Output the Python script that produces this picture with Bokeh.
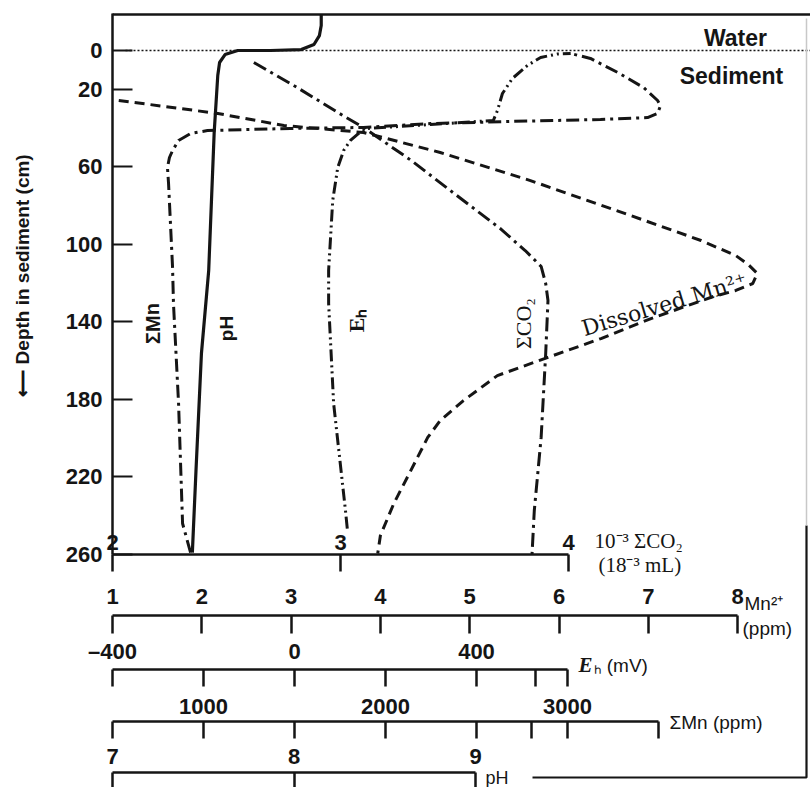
from bokeh.plotting import figure
from bokeh.models import Range1d, LinearAxis, FixedTicker, Label
from bokeh.embed import file_html
from bokeh.resources import INLINE

# ---------------- data (depth in cm, values in each variable's own units) ----------------
ph_value = [8.15, 8.15, 8.14, 8.11, 8.04, 7.87, 7.69, 7.62, 7.59, 7.58, 7.56, 7.53, 7.49, 7.46, 7.44]
ph_depth = [-18.6, -12.9, -7.7, -3.1, -0.5, 0.0, 0.0, 2.1, 6.2, 12.9, 42.8, 113.5, 156.3, 216.7, 259.0]

smn_value = [929, 885, 863, 835, 830, 808, 802, 813, 830, 863, 929, 1022, 1478, 1879, 2247,
             2687, 3181, 3440, 3495, 3511, 3495, 3418, 3275, 3126, 3016]
smn_depth = [259.0, 244.0, 182.1, 130.5, 111.9, 68.6, 60.4, 55.2, 51.6, 46.4, 42.8, 41.3, 40.2,
             39.7, 37.7, 36.6, 35.6, 34.6, 32.5, 28.4, 25.8, 19.1, 11.3, 4.1, 1.5]

eh_value = [116, 112, 86, 75, 75, 84, 95, 108, 123, 141, 160, 299, 437, 446, 457, 479, 512, 541, 578, 607]
eh_depth = [246.6, 237.3, 182.1, 130.5, 113.5, 77.4, 60.4, 51.6, 46.4, 42.8, 40.2, 38.2, 36.1,
            31.0, 22.2, 14.4, 7.7, 3.6, 1.8, 1.5]

co2_value = [2.62, 2.81, 3.01, 3.10, 3.31, 3.51, 3.70, 3.81, 3.88, 3.90, 3.91, 3.90, 3.88, 3.85, 3.84]
co2_depth = [6.2, 19.1, 33.5, 39.7, 56.7, 74.8, 91.8, 103.2, 111.4, 120.2, 129.0, 156.3, 199.6, 237.3, 260.0]

mn_value = [1.07, 1.59, 2.18, 2.92, 3.81, 4.67, 5.68, 6.80, 7.59, 7.98, 8.12, 8.22, 8.17, 7.98,
            7.73, 7.03, 6.47, 5.87, 5.31, 4.93, 4.67, 4.53, 4.34, 4.15, 4.00, 3.97]
mn_depth = [25.8, 28.9, 32.5, 38.7, 42.3, 52.6, 67.1, 85.1, 98.0, 105.8, 110.4, 115.0, 120.2, 123.8,
            126.9, 138.3, 148.6, 158.4, 167.7, 180.6, 190.9, 199.6, 216.7, 233.7, 250.2, 259.5]

depth_ticks = [0, 20, 60, 100, 140, 180, 220, 260]
co2_ticks = [2, 3, 4]
co2_tick_labels = ["2", "3", "4"]
mn_ticks = [1, 2, 3, 4, 5, 6, 7, 8]
mn_tick_labels = ["1", "2", "3", "4", "5", "6", "7", "8"]
eh_ticks = [-400, -200, 0, 200, 400, 530, 600]
eh_tick_labels = ["–400", "", "0", "", "400", "", ""]
smn_ticks = [500, 1000, 1500, 2000, 2500, 2800, 3000, 3500]
smn_tick_labels = ["", "1000", "", "2000", "", "", "3000", ""]
phax_ticks = [7, 8, 9]
phax_tick_labels = ["7", "8", "9"]

# ---------------- layout constants (pixels) ----------------
W, H = 810, 787
AXIS_PX = 112          # pixel column where every scale starts
Y0_PX = 50.0           # pixel row of depth 0
PX_PER_CM = 1.9385
# pixels per unit of each scale, and the value found at AXIS_PX
SCALES = {"default": (1, 89.3), "co2": (2, 228.0), "eh": (-400, 0.455),
          "smn": (500, 0.182), "ph": (7, 181.5)}

def depth_at(py):
    return (py - Y0_PX) / PX_PER_CM

def val_at(name, px):
    v0, b = SCALES[name]
    return v0 + (px - AXIS_PX) / b

def full_range(name):
    return Range1d(val_at(name, 0), val_at(name, W))

SANS = "Liberation Sans"
SERIF = "Liberation Serif"
INK = "#151515"

p = figure(width=W, height=H,
           x_range=full_range("default"),
           y_range=Range1d(depth_at(H), depth_at(0)),
           x_axis_location=None, y_axis_location=None,
           min_border_left=0, min_border_top=0, min_border_right=0, min_border_bottom=0,
           toolbar_location=None, output_backend="svg",
           outline_line_color=None, background_fill_color="white",
           border_fill_color="white")
p.grid.visible = False
p.extra_x_ranges = {k: full_range(k) for k in ("co2", "eh", "smn", "ph")}

TOP_DEPTH = depth_at(14)

# ---------------- depth axis ----------------
ya = LinearAxis(fixed_location=val_at("default", AXIS_PX), ticker=FixedTicker(ticks=depth_ticks),
                bounds=(depth_at(13), 260))
ya.axis_line_width = 2.5
ya.axis_line_color = INK
ya.major_tick_in = 20
ya.major_tick_out = 0
ya.major_tick_line_width = 2
ya.major_tick_line_color = INK
ya.minor_tick_line_color = None
ya.major_label_standoff = 10
ya.major_label_text_font = SANS
ya.major_label_text_font_style = "bold"
ya.major_label_text_font_size = "22px"
ya.major_label_text_color = INK
p.add_layout(ya, "left")

# ---------------- stacked scales under the profile ----------------
def bottom_axis(name, py, ticks, labels, lo, hi, tick_len, standoff):
    ax = LinearAxis(x_range_name=name, fixed_location=depth_at(py), ticker=FixedTicker(ticks=ticks),
                    bounds=(lo, hi))
    ax.major_label_overrides = {t: s for t, s in zip(ticks, labels)}
    ax.axis_line_width = 2.5
    ax.axis_line_color = INK
    ax.major_tick_in = tick_len
    ax.major_tick_out = 0
    ax.major_tick_line_width = 2.5
    ax.major_tick_line_color = INK
    ax.minor_tick_line_color = None
    ax.major_label_standoff = standoff
    ax.major_label_text_font = SANS
    ax.major_label_text_font_style = "bold"
    ax.major_label_text_font_size = "22px"
    ax.major_label_text_color = INK
    p.add_layout(ax, "above")

bottom_axis("co2", 50 + 260 * PX_PER_CM, co2_ticks, co2_tick_labels, 2, 4, 17, 5)
bottom_axis("default", 615, mn_ticks, mn_tick_labels, 1, 8, 18, 12)
bottom_axis("eh", 669, eh_ticks, eh_tick_labels, -400, 600, 17, 6)
bottom_axis("smn", 721, smn_ticks, smn_tick_labels, 500, 3500, 17, 8)
bottom_axis("ph", 772, phax_ticks, phax_tick_labels, 7, 9, 22, 9)

# frame lines: top of water column, sediment surface, closing line on the right
p.segment(x0=[val_at("default", AXIS_PX)], y0=[TOP_DEPTH], x1=[val_at("default", W)], y1=[TOP_DEPTH],
          line_color=INK, line_width=2.5)
p.segment(x0=[val_at("default", 125)], y0=[0], x1=[val_at("default", W)], y1=[0],
          line_color=INK, line_width=1.6, line_dash="2 2")
right_x = val_at("ph", 806)
p.line(x=[val_at("ph", 532), right_x, right_x], y=[depth_at(777), depth_at(777), depth_at(525)],
       x_range_name="ph", line_color=INK, line_width=2.2)
p.line(x=[right_x, right_x], y=[depth_at(525), depth_at(18)],
       x_range_name="ph", line_color="#c8c8c8", line_width=1.5)

# ---------------- profiles ----------------
p.line(ph_value, ph_depth, x_range_name="ph", line_color=INK, line_width=3.2)
p.line(smn_value, smn_depth, x_range_name="smn", line_color=INK, line_width=3,
       line_dash="13 5 3 5")
p.line(eh_value, eh_depth, x_range_name="eh", line_color=INK, line_width=3,
       line_dash="12 4 2 4 2 4")
p.line(co2_value, co2_depth, x_range_name="co2", line_color=INK, line_width=3,
       line_dash="14 5 3 5")
p.line(mn_value, mn_depth, line_color=INK, line_width=3, line_dash="10 6")

# ---------------- texts ----------------
def lab(text, rng, px, py, size="19px", font=SANS, style="bold", angle=0.0,
        align="left", baseline="middle"):
    p.add_layout(Label(x=val_at(rng, px), y=depth_at(py), x_range_name=rng, text=text,
                       text_font=font, text_font_size=size, text_font_style=style,
                       text_color=INK, angle=angle, text_align=align, text_baseline=baseline))

lab("⟵ Depth in sediment (cm)", "default", 22, 275, size="19px", angle=1.5708, align="center")

lab("Water", "default", 735, 37, size="23px", align="center")
lab("Sediment", "default", 731, 75, size="23px", align="center")

lab("ΣMn", "smn", 152, 323, size="20px", angle=1.5708, align="center")
lab("pH", "ph", 226, 328, size="19px", angle=1.5708, align="center")
lab("Eₕ", "eh", 356, 320, size="22px", font=SERIF, angle=1.5708, align="center")
lab("ΣCO₂", "co2", 523, 323, size="22px", font=SERIF, style="normal", angle=1.5708, align="center")
lab("Dissolved Mn²⁺", "default", 664, 304, size="22px", font="DejaVu Serif", style="normal",
    angle=0.29, align="center")

lab("10⁻³ ΣCO₂", "co2", 594, 540, size="21px", font=SERIF, style="normal")
lab("(18⁻³ mL)", "co2", 598, 564, size="21px", font=SERIF, style="normal")
lab("Mn²⁺", "default", 744, 603, size="19px", style="normal")
lab("(ppm)", "default", 742, 628, size="19px", style="normal")
lab("E", "eh", 578, 664, size="21px", font=SERIF, style="bold italic")
lab("ₕ (mV)", "eh", 593, 665, size="19px", style="normal")
lab("ΣMn (ppm)", "smn", 669, 722, size="19px", style="normal")
lab("pH", "ph", 485, 777, size="18px", style="normal")

open("out.html", "w").write(file_html(p, INLINE))
